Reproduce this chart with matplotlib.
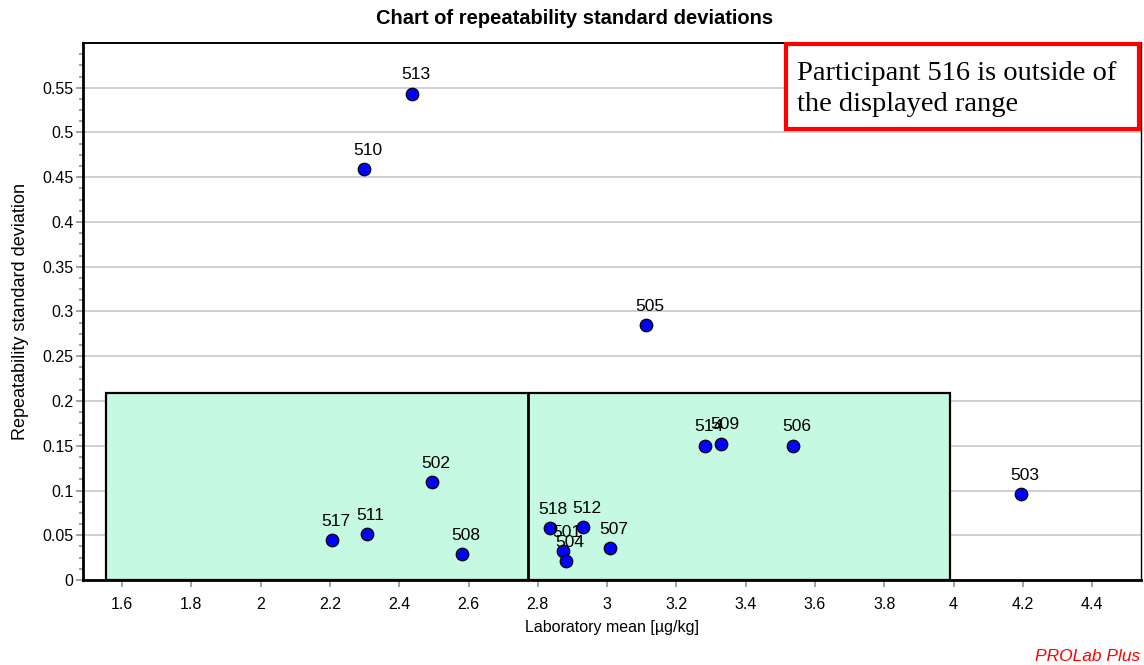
import matplotlib
matplotlib.use("Agg")
import matplotlib.pyplot as plt
from matplotlib import font_manager
from matplotlib.patches import Rectangle
from matplotlib.ticker import MultipleLocator, FuncFormatter

# Participant data: laboratory mean (µg/kg) and repeatability standard deviation
participants = ["513", "510", "505", "514", "509", "506", "503", "502",
                "517", "511", "508", "518", "512", "501", "504", "507"]
lab_means = [2.437, 2.299, 3.113, 3.283, 3.329, 3.537, 4.195, 2.495,
             2.206, 2.307, 2.582, 2.834, 2.931, 2.873, 2.882, 3.009]
rep_sd = [0.5433, 0.4593, 0.2845, 0.1501, 0.1523, 0.1501, 0.0963, 0.1092,
          0.0448, 0.0510, 0.0286, 0.0583, 0.0588, 0.0325, 0.0207, 0.0358]

# Acceptance region: assigned value with tolerance limits and sd limit
assigned_value = 2.772
lower_limit = 1.554
upper_limit = 3.990
sd_limit = 0.209

x_limits = (1.4865, 4.542)
y_limits = (0.0, 0.5999)
x_major = 0.2
y_major = 0.05
y_minor = 0.0125

title_text = "Chart of repeatability standard deviations"
xlabel_text = "Laboratory mean [µg/kg]"
ylabel_text = "Repeatability standard deviation"
note_text = "Participant 516 is outside of\nthe displayed range"
brand_text = "PROLab Plus"

available = {f.name for f in font_manager.fontManager.ttflist}
sans = "Liberation Sans"
narrow = "Liberation Sans Narrow" if "Liberation Sans Narrow" in available else sans

plt.rcParams["font.family"] = [sans, "DejaVu Sans"]

fig = plt.figure(figsize=(11.44, 6.65), dpi=100)
ax = fig.add_axes([0.0723, 0.1278, 0.9977 - 0.0723, 0.9353 - 0.1278])

ax.set_xlim(*x_limits)
ax.set_ylim(*y_limits)

# horizontal grid
ax.yaxis.set_major_locator(MultipleLocator(y_major))
ax.yaxis.set_minor_locator(MultipleLocator(y_minor))
ax.xaxis.set_major_locator(MultipleLocator(x_major))
ax.grid(axis="y", which="major", color="#c4c4c4", linewidth=1.1, zorder=0)
ax.set_axisbelow(True)

def fmt(v, pos):
    s = f"{v:.2f}".rstrip("0").rstrip(".")
    return s

ax.xaxis.set_major_formatter(FuncFormatter(fmt))
ax.yaxis.set_major_formatter(FuncFormatter(fmt))

ax.tick_params(axis="both", which="major", direction="out", length=5,
               width=1.1, color="#8a8a8a", labelsize=11.5, pad=1.5)
ax.tick_params(axis="y", which="minor", direction="out", length=3,
               width=1.1, color="#8a8a8a")
ax.tick_params(axis="x", which="major", pad=7)

for side, lw in (("left", 2.0), ("bottom", 2.0), ("top", 1.4), ("right", 1.0)):
    ax.spines[side].set_linewidth(lw)
    ax.spines[side].set_color("black")

# acceptance region
region = Rectangle((lower_limit, 0), upper_limit - lower_limit, sd_limit,
                   facecolor="#c5f9e2", edgecolor="black", linewidth=1.6,
                   zorder=2)
ax.add_patch(region)
ax.plot([assigned_value, assigned_value], [0, sd_limit], color="black",
        linewidth=2.0, zorder=3)

# participant points
ax.plot(lab_means, rep_sd, linestyle="none", marker="o", markersize=9,
        markerfacecolor="#0000ff", markeredgecolor="black",
        markeredgewidth=0.9, zorder=5, clip_on=False)

for name, x, y in zip(participants, lab_means, rep_sd):
    ax.annotate(name, (x, y), xytext=(2.5, 13.5), textcoords="offset points",
                ha="center", va="center", fontsize=12.5, color="black",
                zorder=6)

# title centred on the whole figure
fig.text(0.5025, 1 - 18 / 665, title_text, fontsize=14.5, fontweight="bold",
         family=narrow, ha="center", va="center")
ax.set_xlabel(xlabel_text, fontsize=11.5, labelpad=6)
ax.set_ylabel(ylabel_text, fontsize=13, labelpad=10)

# note box in the top right corner
note_box = Rectangle((786 / 1144, 1 - 129 / 665), (1139 - 786) / 1144,
                     (129 - 43.5) / 665, transform=fig.transFigure,
                     facecolor="white", edgecolor="#ff0000", linewidth=3.0,
                     zorder=10)
fig.patches.append(note_box)
fig.text(797 / 1144, 1 - 89 / 665, note_text, fontsize=20.5,
         family=["Liberation Serif", "DejaVu Serif"], ha="left", va="center",
         linespacing=1.3, zorder=11)

fig.text(0.997, 0.002, brand_text, color="#ff0000", fontsize=12.5,
         style="italic", family=narrow, ha="right", va="bottom")

fig.savefig("out.png", dpi=100)
